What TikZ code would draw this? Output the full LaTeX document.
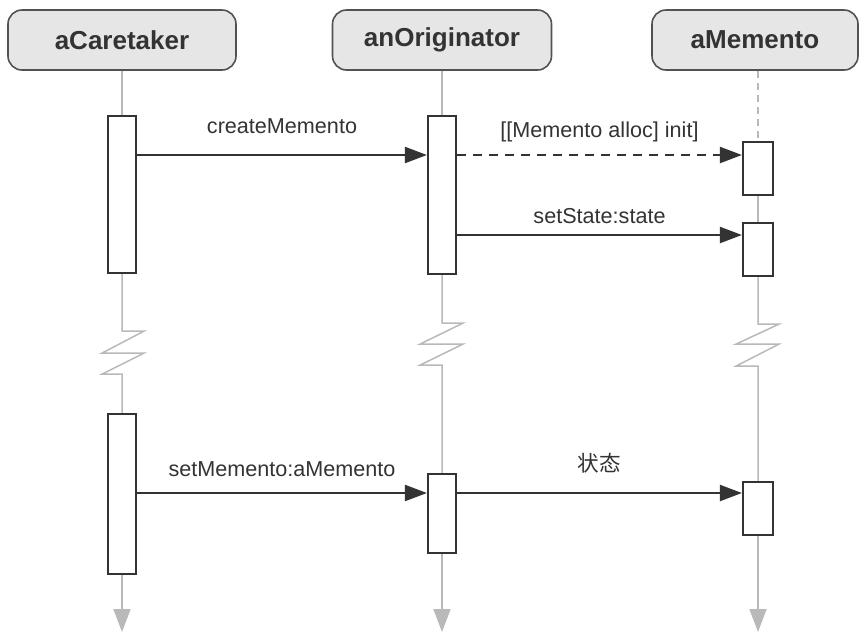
\documentclass[tikz,border=0pt]{standalone}
\usepackage{fontspec}
\setmainfont{Liberation Sans}
\newfontfamily\cjk{Noto Sans CJK SC}
\usetikzlibrary{arrows.meta}
\definecolor{ink}{HTML}{333333}
\definecolor{head}{HTML}{E6E6E6}

\begin{document}
\begin{tikzpicture}[
    x=1pt, y=-1pt,
    obj/.style={draw=ink!85,line width=1.6pt,fill=head,rectangle,rounded corners=14pt,minimum height=60pt,text=ink,font=\fontsize{26}{30}\selectfont\bfseries},
    act/.style={draw=ink,line width=2.2pt,fill=white,rectangle,minimum width=28pt,inner sep=0pt},
    life/.style={draw=gray!55,line width=1.5pt},
    tip/.style={-{Triangle[length=23pt,width=17pt]}},
    msg/.style={draw=ink,line width=2.2pt,-{Triangle[length=22pt,width=16pt]}},
    lbl/.style={anchor=base,text=ink,inner sep=0pt,font=\fontsize{21.6}{26}\selectfont},
]

    \useasboundingbox (0,0) rectangle (859,633);

    % objects
    \node[obj,minimum width=228pt] (caretaker) at (122,40) {aCaretaker};
    \node[obj,minimum width=219pt] (originator) at (442,40) {anOriginator};
    \node[obj,minimum width=206pt] (memento) at (755,40) {aMemento};

    % activations
    \node[act,minimum height=157pt] (c1) at (122,194.5) {};
    \node[act,minimum height=158pt] (o1) at (442,195) {};
    \node[act,minimum width=30pt,minimum height=53pt] (m1) at (758,168.5) {};
    \node[act,minimum width=30pt,minimum height=53pt] (m2) at (758,249.5) {};
    \node[act,minimum height=160pt] (c2) at (122,494) {};
    \node[act,minimum height=79pt] (o2) at (442,513.5) {};
    \node[act,minimum width=30pt,minimum height=53pt] (m3) at (758,508.5) {};

    \coordinate (r1) at (0,155);
    \coordinate (r2) at (0,235);
    \coordinate (r3) at (0,493);
    \coordinate (bot) at (0,632);

    % lifelines
    \draw[life] (caretaker) -- (c1);
    \draw[life] (c1.south) -- ++(0,57) -- ++(22,0) -- ++(-42,22) -- ++(42,0) -- ++(-42,21) -- ++(20,0) -- (c2.north);
    \draw[life,tip] (c2.south) -- (c2.south |- bot);

    \draw[life] (originator) -- (o1);
    \draw[life] (o1.south) -- ++(0,48) -- ++(21,0) -- ++(-43,21) -- ++(43,0) -- ++(-43,21) -- ++(22,0) -- (o2.north);
    \draw[life,tip] (o2.south) -- (o2.south |- bot);

    \draw[life,dash pattern=on 7pt off 5pt] (memento.south -| m1.north) -- (m1.north);
    \draw[life] (m1) -- (m2);
    \draw[life] (m2.south) -- ++(0,47) -- ++(21,0) -- ++(-43,20) -- ++(43,0) -- ++(-43,22) -- ++(22,0) -- (m3.north);
    \draw[life,tip] (m3.south) -- (m3.south |- bot);

    % messages
    \draw[msg] (c1.east |- r1) -- node[lbl,yshift=22pt] {createMemento} (o1.west |- r1);
    \draw[msg,dash pattern=on 9pt off 7pt] (o1.east |- r1) -- node[lbl,yshift=18pt] {[[Memento alloc] init]} (m1.west |- r1);
    \draw[msg] (o1.east |- r2) -- node[lbl,yshift=12pt] {setState:state} (m2.west |- r2);
    \draw[msg] (c2.east |- r3) -- node[lbl,yshift=17pt] {setMemento:aMemento} (o2.west |- r3);
    \draw[msg] (o2.east |- r3) -- node[lbl,yshift=22pt] {\cjk 状态} (m3.west |- r3);

\end{tikzpicture}
\end{document}
